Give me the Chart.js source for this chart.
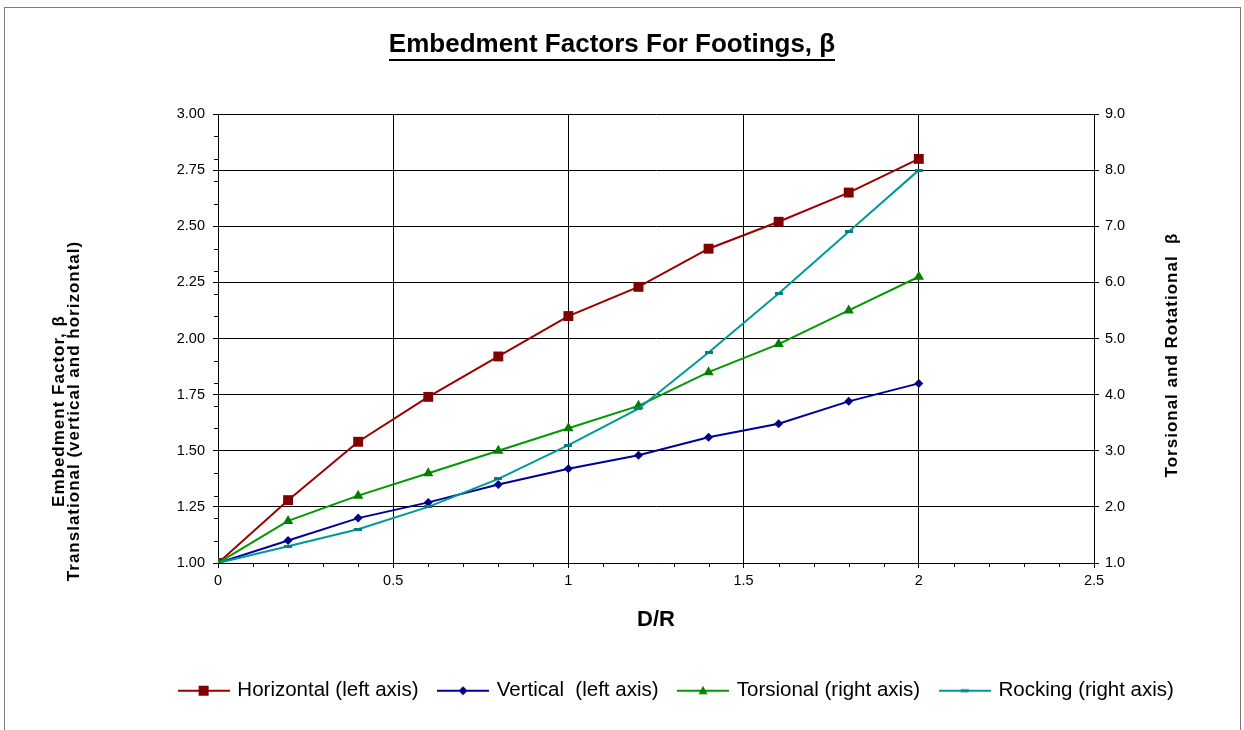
<!DOCTYPE html>
<html>
<head>
<meta charset="utf-8">
<script src="https://cdn.jsdelivr.net/npm/chart.js@4/dist/chart.umd.min.js"></script>
<style>
html,body{margin:0;padding:0;background:#fff;}
#wrap{width:1244px;height:730px;position:relative;}
</style>
</head>
<body>
<div id="wrap"><canvas id="c" width="1244" height="730"></canvas></div>
<script>
// ---- data ----
const chartTitle = 'Embedment Factors For Footings, β';
const xTitle = 'D/R';
const leftTitleLines = ['Embedment Factor, β', 'Translational (vertical and horizontal)'];
const rightTitle = 'Torsional and Rotational  β';
const seriesNames = ['Horizontal (left axis)', 'Vertical  (left axis)', 'Torsional (right axis)', 'Rocking (right axis)'];

const dr         = [0, 0.2, 0.4, 0.6, 0.8, 1.0, 1.2, 1.4, 1.6, 1.8, 2.0];
const horizontal = [1.00, 1.28, 1.54, 1.74, 1.92, 2.10, 2.23, 2.40, 2.52, 2.65, 2.80];
const vertical   = [1.00, 1.10, 1.20, 1.27, 1.35, 1.42, 1.48, 1.56, 1.62, 1.72, 1.80];
const torsional  = [1.0, 1.75, 2.2, 2.6, 3.0, 3.4, 3.8, 4.4, 4.9, 5.5, 6.1];
const rocking    = [1.0, 1.3, 1.6, 2.0, 2.5, 3.1, 3.75, 4.75, 5.8, 6.9, 8.0];

const xTickValues = [0, 0.5, 1, 1.5, 2, 2.5];
const xTickLabels = ['0', '0.5', '1', '1.5', '2', '2.5'];
const leftTickValues = [1, 1.25, 1.5, 1.75, 2, 2.25, 2.5, 2.75, 3];
const leftTickLabels = ['1.00', '1.25', '1.50', '1.75', '2.00', '2.25', '2.50', '2.75', '3.00'];
const rightTickValues = [1, 2, 3, 4, 5, 6, 7, 8, 9];
const rightTickLabels = ['1.0', '2.0', '3.0', '4.0', '5.0', '6.0', '7.0', '8.0', '9.0'];
const xMinorStep = 0.1;
const leftMinorStep = 0.1;

// ---- styles ----
const FONT = '"Liberation Sans", Arial, Helvetica, sans-serif';
const colors = {
  horizontal: {line: '#990000', mark: '#800000'},
  vertical:   {line: '#000099', mark: '#000080'},
  torsional:  {line: '#009900', mark: '#008000'},
  rocking:    {line: '#009999', mark: '#008080'}
};

function dashMarker(color) {
  const c = document.createElement('canvas');
  c.width = 8; c.height = 3;
  const g = c.getContext('2d');
  g.fillStyle = color; g.fillRect(0, 0, 8, 3);
  return c;
}
const rockingMarker = dashMarker(colors.rocking.mark);

function legendIcon(col, shape) {
  const c = document.createElement('canvas');
  c.width = 52; c.height = 14;
  const g = c.getContext('2d');
  g.strokeStyle = col.line; g.lineWidth = 2;
  g.beginPath(); g.moveTo(0, 7); g.lineTo(52, 7); g.stroke();
  g.fillStyle = col.mark;
  const cx = 26, cy = 7;
  g.beginPath();
  if (shape === 'square') { g.rect(cx - 5, cy - 5, 10, 10); }
  else if (shape === 'diamond') { g.moveTo(cx, cy - 4.5); g.lineTo(cx + 4.5, cy); g.lineTo(cx, cy + 4.5); g.lineTo(cx - 4.5, cy); g.closePath(); }
  else if (shape === 'triangle') { g.moveTo(cx, cy - 5); g.lineTo(cx + 4.5, cy + 3.5); g.lineTo(cx - 4.5, cy + 3.5); g.closePath(); }
  else { g.rect(cx - 4, cy - 1.5, 8, 3); }
  g.fill();
  return c;
}
const legendIcons = [
  legendIcon(colors.horizontal, 'square'),
  legendIcon(colors.vertical, 'diamond'),
  legendIcon(colors.torsional, 'triangle'),
  legendIcon(colors.rocking, 'dash')
];

function pts(ys) { return dr.map((x, i) => ({x: x, y: ys[i]})); }

// ---- plugins ----
const decorations = {
  id: 'decorations',
  afterDraw(chart) {
    const ctx = chart.ctx;
    ctx.save();
    // outer border
    ctx.strokeStyle = '#7a7a7a'; ctx.lineWidth = 1;
    ctx.strokeRect(4.5, 7.5, 1236, 740);
    // main title with underline
    ctx.fillStyle = '#000';
    ctx.font = 'bold 26px ' + FONT;
    ctx.textAlign = 'center'; ctx.textBaseline = 'alphabetic';
    ctx.fillText(chartTitle, 612, 52);
    const w = ctx.measureText(chartTitle).width;
    ctx.fillRect(Math.round(612 - w / 2), 59, Math.round(w), 2);
    // y axis titles
    ctx.font = 'bold 17px ' + FONT;
    try { ctx.letterSpacing = '1px'; } catch (e) {}
    const yl = chart.scales.y;
    const yr = chart.scales.y2;
    const drawRot = (text, x, y) => {
      ctx.save(); ctx.translate(x, y); ctx.rotate(-Math.PI / 2);
      ctx.fillText(text, 0, 0); ctx.restore();
    };
    drawRot(leftTitleLines[0], yl.left - 46, 411);
    drawRot(leftTitleLines[1], yl.left - 31, 411);
    drawRot(rightTitle, yr.left + 83, 355);
    try { ctx.letterSpacing = '0px'; } catch (e) {}
    // minor ticks
    const xs = chart.scales.x;
    ctx.strokeStyle = '#000'; ctx.lineWidth = 1;
    ctx.beginPath();
    const nx = Math.round((xs.max - xs.min) / xMinorStep);
    for (let k = 1; k < nx; k++) {
      const v = xs.min + k * xMinorStep;
      if (xTickValues.some(t => Math.abs(t - v) < 1e-9)) continue;
      const px = Math.round(xs.getPixelForValue(v)) + 0.5;
      ctx.moveTo(px, xs.top); ctx.lineTo(px, xs.top + 4);
    }
    const ny = Math.round((yl.max - yl.min) / leftMinorStep);
    for (let k = 1; k < ny; k++) {
      const v = yl.min + k * leftMinorStep;
      if (leftTickValues.some(t => Math.abs(t - v) < 1e-9)) continue;
      const py = Math.round(yl.getPixelForValue(v)) + 0.5;
      ctx.moveTo(yl.right - 4, py); ctx.lineTo(yl.right, py);
    }
    ctx.stroke();
    ctx.restore();
  }
};

Chart.defaults.color = '#000';
Chart.defaults.font.family = FONT;

new Chart(document.getElementById('c'), {
  type: 'line',
  data: {
    datasets: [
      {label: seriesNames[0], data: pts(horizontal), yAxisID: 'y', order: 4,
       borderColor: colors.horizontal.line, backgroundColor: colors.horizontal.mark,
       pointStyle: 'rect', pointRadius: 7, pointBorderWidth: 0, pointBackgroundColor: colors.horizontal.mark, borderWidth: 2},
      {label: seriesNames[1], data: pts(vertical), yAxisID: 'y', order: 3,
       borderColor: colors.vertical.line, backgroundColor: colors.vertical.mark,
       pointStyle: 'rectRot', pointRadius: 4.5, pointBorderWidth: 0, pointBackgroundColor: colors.vertical.mark, borderWidth: 2},
      {label: seriesNames[2], data: pts(torsional), yAxisID: 'y2', order: 2,
       borderColor: colors.torsional.line, backgroundColor: colors.torsional.mark,
       pointStyle: 'triangle', pointRadius: 6, pointBorderWidth: 0, pointBackgroundColor: colors.torsional.mark, borderWidth: 2},
      {label: seriesNames[3], data: pts(rocking), yAxisID: 'y2', order: 1,
       borderColor: colors.rocking.line, backgroundColor: colors.rocking.mark,
       pointStyle: rockingMarker, pointRadius: 4, borderWidth: 2}
    ]
  },
  options: {
    responsive: false,
    animation: false,
    devicePixelRatio: 1,
    layout: {padding: {left: 110, right: 0, top: 114, bottom: 19}},
    plugins: {
      title: {display: false},
      tooltip: {enabled: false},
      legend: {
        display: true,
        position: 'bottom',
        labels: {
          usePointStyle: true,
          pointStyleWidth: 47,
          padding: 21,
          color: '#000',
          font: {size: 20.5, family: FONT},
          generateLabels: (chart) => chart.data.datasets.map((ds, i) => ({
            text: ds.label, pointStyle: legendIcons[i], fillStyle: 'transparent',
            strokeStyle: 'transparent', lineWidth: 0, hidden: false, datasetIndex: i, fontColor: '#000'
          }))
        }
      }
    },
    scales: {
      x: {
        type: 'linear',
        position: 'bottom',
        min: 0, max: 2.5,
        afterBuildTicks: (s) => { s.ticks = xTickValues.map(v => ({value: v})); },
        ticks: {
          autoSkip: false, maxRotation: 0, padding: 4,
          font: {size: 14.5, family: FONT}, color: '#000',
          callback: (v, i) => xTickLabels[i]
        },
        grid: {color: '#000', lineWidth: 1, tickLength: 5, drawTicks: true},
        border: {display: true, color: '#000', width: 1},
        title: {display: true, text: xTitle, color: '#000',
                font: {size: 22, weight: 'bold', family: FONT}, padding: {top: 0, bottom: 26.5}},
        afterFit: (s) => { s.height = 96.5; }
      },
      y: {
        type: 'linear',
        position: 'left',
        min: 1, max: 3,
        afterBuildTicks: (s) => { s.ticks = leftTickValues.map(v => ({value: v})); },
        ticks: {
          autoSkip: false, padding: 8,
          font: {size: 14.5, family: FONT}, color: '#000',
          callback: (v, i) => leftTickLabels[i]
        },
        grid: {color: '#000', lineWidth: 1, tickLength: 5, drawTicks: true},
        border: {display: true, color: '#000', width: 1},
        afterFit: (s) => { s.width = 108; }
      },
      y2: {
        type: 'linear',
        position: 'right',
        min: 1, max: 9,
        afterBuildTicks: (s) => { s.ticks = rightTickValues.map(v => ({value: v})); },
        ticks: {
          autoSkip: false, padding: 6,
          font: {size: 14.5, family: FONT}, color: '#000',
          callback: (v, i) => rightTickLabels[i]
        },
        grid: {drawOnChartArea: false, color: '#000', lineWidth: 1, tickLength: 5, drawTicks: true},
        border: {display: true, color: '#000', width: 1},
        afterFit: (s) => { s.width = 150; }
      }
    }
  },
  plugins: [decorations]
});
</script>
</body>
</html>
